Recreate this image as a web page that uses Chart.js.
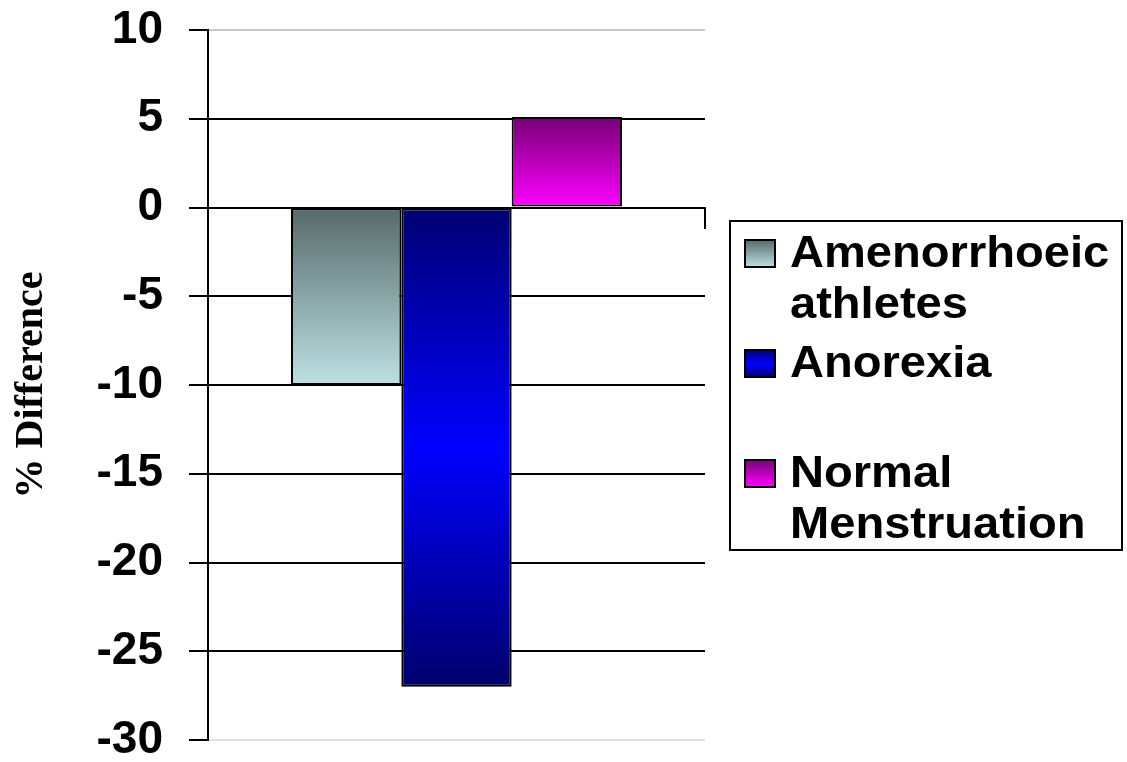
<!DOCTYPE html>
<html>
<head>
<meta charset="utf-8">
<script src="https://cdn.jsdelivr.net/npm/chart.js@4.4.1/dist/chart.umd.min.js"></script>
<style>
  html, body { margin: 0; padding: 0; background: #ffffff; }
  #wrap { width: 1127px; height: 762px; position: relative; }
</style>
</head>
<body>
<div id="wrap"><canvas id="chart"></canvas></div>
<script>
// ---- data ----
const categories = [''];
const seriesNames = ['Amenorrhoeic athletes', 'Anorexia', 'Normal Menstruation'];
const legendLines = [['Amenorrhoeic', 'athletes'], ['Anorexia'], ['Normal', 'Menstruation']];
const seriesValues = [-10, -27, 5.1];
const yMin = -30;
const yMax = 10;
const yStep = 5;
const axisTitle = '% Difference';

// ---- styles ----
const gradientStops = [
  [[0, '#56696a'], [1, '#bde1e3']],
  [[0, '#000072'], [0.5, '#0000ff'], [1, '#00006c']],
  [[0, '#760076'], [1, '#ff00ff']]
];

function makeGradient(ctx2d, i, yTop, yBottom) {
  const g = ctx2d.createLinearGradient(0, yTop, 0, yBottom);
  gradientStops[i].forEach(([o, c]) => g.addColorStop(o, c));
  return g;
}

function barFill(context) {
  const chart = context.chart;
  const i = context.datasetIndex;
  const y = chart.scales.y;
  if (!chart.chartArea || !y) return gradientStops[i][0][1];
  const v = seriesValues[i];
  const top = y.getPixelForValue(Math.max(v, 0));
  const bottom = y.getPixelForValue(Math.min(v, 0));
  return makeGradient(chart.ctx, i, top, bottom);
}

// Legend drawn in a framed box to the right of the plot
const boxLegend = {
  id: 'boxLegend',
  afterDraw(chart) {
    const ctx = chart.ctx;
    const area = chart.chartArea;
    const left = area.right + 25, top = 221, right = 1122, bottom = 550;
    ctx.save();
    ctx.lineWidth = 2;
    ctx.strokeStyle = '#000';
    ctx.strokeRect(left, top, right - left, bottom - top);
    ctx.font = 'bold 44px "Liberation Sans", Arial, sans-serif';
    ctx.fillStyle = '#000';
    ctx.textBaseline = 'alphabetic';
    const slot = 110, lineGap = 51;
    legendLines.forEach((lines, i) => {
      const base = top + 46 + i * slot;
      const sx = left + 15, sw = 30, sh = 27;
      ctx.fillStyle = makeGradient(ctx, i, base - sh, base);
      ctx.fillRect(sx, base - sh, sw, sh);
      ctx.lineWidth = 2;
      ctx.strokeRect(sx, base - sh, sw, sh);
      ctx.fillStyle = '#000';
      lines.forEach((t, k) => {
        ctx.save();
        ctx.translate(left + 60, base + k * lineGap);
        ctx.scale(1.07, 1);
        ctx.fillText(t, 0, 0);
        ctx.restore();
      });
    });
    ctx.restore();
  }
};

const datasets = seriesNames.map((name, i) => ({
  label: name,
  data: [seriesValues[i]],
  backgroundColor: barFill,
  borderColor: '#000',
  borderWidth: 2,
  borderSkipped: false,
  barPercentage: 1,
  categoryPercentage: 0.666
}));

new Chart(document.getElementById('chart'), {
  type: 'bar',
  data: { labels: categories, datasets },
  plugins: [boxLegend],
  options: {
    responsive: true,
    maintainAspectRatio: false,
    animation: false,
    layout: { padding: { left: 0, right: 422, top: 30, bottom: 22 } },
    plugins: { legend: { display: false }, tooltip: { enabled: false } },
    scales: {
      x: {
        position: { y: 0 },
        ticks: { display: false },
        grid: { drawOnChartArea: false, offset: true, tickLength: 20, color: '#000', lineWidth: 2 },
        border: { display: true, color: '#000', width: 2 }
      },
      y: {
        min: yMin,
        max: yMax,
        afterFit(scale) {
          scale.width = 208;
          scale.paddingTop = 0;
          scale.paddingBottom = 0;
        },
        ticks: {
          stepSize: yStep,
          padding: 26,
          color: '#000',
          font: { family: '"Liberation Sans", Arial, sans-serif', size: 46, weight: 'bold' }
        },
        grid: {
          tickLength: 19,
          lineWidth: 2,
          tickColor: '#000',
          color: (c) => {
            if (c.tick && c.tick.value === yMax) return '#c8c8c8';
            if (c.tick && c.tick.value === yMin) return '#e0e0e0';
            return '#000';
          }
        },
        border: { display: true, color: '#000', width: 2 },
        title: {
          display: true,
          text: axisTitle,
          color: '#000',
          padding: { top: 8, bottom: 0 },
          font: { family: '"Liberation Serif", "Times New Roman", serif', size: 40, weight: 'bold' }
        }
      }
    }
  }
});
</script>
</body>
</html>
